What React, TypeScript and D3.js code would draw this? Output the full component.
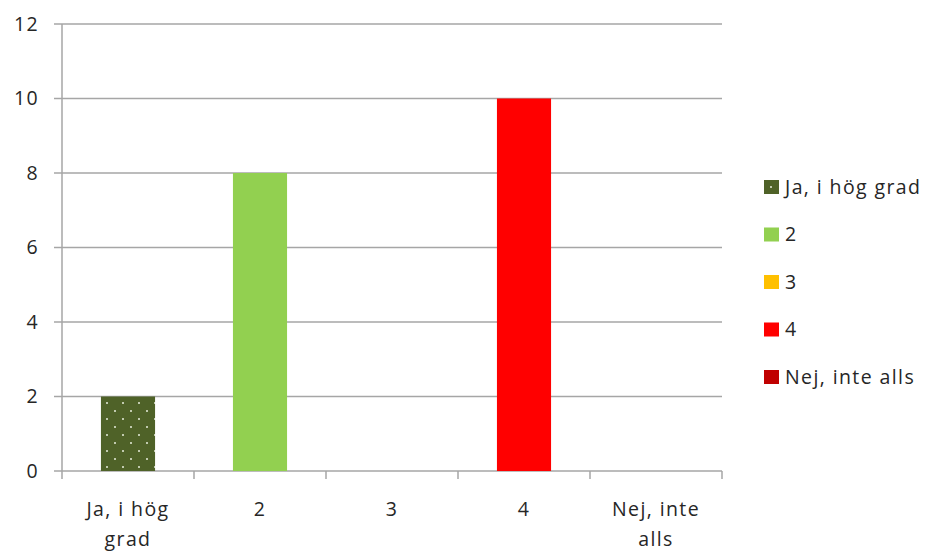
import React from "react";
import * as d3 from "d3";

const categories = ["Ja, i hög grad", "2", "3", "4", "Nej, inte alls"];
const categoryLines = [["Ja, i hög", "grad"], ["2"], ["3"], ["4"], ["Nej, inte", "alls"]];
const values = [2, 8, 0, 10, 0];
const colors = ["#4F6228", "#92D050", "#FFC000", "#FF0000", "#C00000"];
const yTicks = [0, 2, 4, 6, 8, 10, 12];

export default function App() {
  const W = 930, H = 551;
  const left = 62, right = 722, top = 24, bottom = 471;
  const x = d3.scaleBand<string>().domain(categories).range([left, right]).paddingInner(0.59).paddingOuter(0.295);
  const y = d3.scaleLinear().domain([0, 12]).range([bottom, top]);
  const font = "Open Sans, sans-serif";
  const fs = 19.5;
  const ls = 1.4;
  const txt = "#262626";
  const grid = "#A6A6A6";
  const bandStep = (right - left) / categories.length;
  return (
    <svg width={W} height={H} style={{ position: "absolute", left: 0, top: 0, background: "#fff" }}>
      <defs>
        <pattern id="dots" patternUnits="userSpaceOnUse" width={16} height={16} x={103} y={0}>
          <rect width={16} height={16} fill={colors[0]} />
          <circle cx={4} cy={3} r={1} fill="#E8EDDD" />
          <circle cx={12} cy={11} r={1} fill="#E8EDDD" />
        </pattern>
      </defs>
      {yTicks.map((t) => (
        <g key={t}>
          <line x1={left - 8} x2={right} y1={y(t)} y2={y(t)} stroke={grid} strokeWidth={1.5} />
          <text x={39} y={y(t)} dy="0.35em" textAnchor="end" fontFamily={font} fontSize={fs} letterSpacing={ls} fill={txt}>{t}</text>
        </g>
      ))}
      <line x1={left} x2={left} y1={top} y2={bottom} stroke={grid} strokeWidth={1.5} />
      {d3.range(categories.length + 1).map((i) => (
        <line key={i} x1={left + i * bandStep} x2={left + i * bandStep} y1={bottom} y2={bottom + 8} stroke={grid} strokeWidth={1.5} />
      ))}
      {categories.map((c, i) => values[i] > 0 && (
        <rect key={c} x={x(c)} y={y(values[i])} width={x.bandwidth()} height={bottom - y(values[i])}
          fill={i === 0 ? "url(#dots)" : colors[i]} />
      ))}
      {categories.map((c, i) => (
        <text key={c} x={(x(c) as number) + x.bandwidth() / 2} y={516} textAnchor="middle" fontFamily={font} fontSize={fs} letterSpacing={ls} fill={txt}>
          {categoryLines[i].map((l, j) => (
            <tspan key={j} x={(x(c) as number) + x.bandwidth() / 2} dy={j === 0 ? 0 : 30}>{l}</tspan>
          ))}
        </text>
      ))}
      {categories.map((c, i) => {
        const cy = 187 + i * 47.5;
        return (
          <g key={c}>
            <rect x={764} y={cy - 7} width={15} height={14} fill={i === 0 ? "url(#dots)" : colors[i]} />
            <text x={785} y={cy} dy="0.35em" fontFamily={font} fontSize={fs} letterSpacing={ls} fill={txt}>{c}</text>
          </g>
        );
      })}
    </svg>
  );
}
